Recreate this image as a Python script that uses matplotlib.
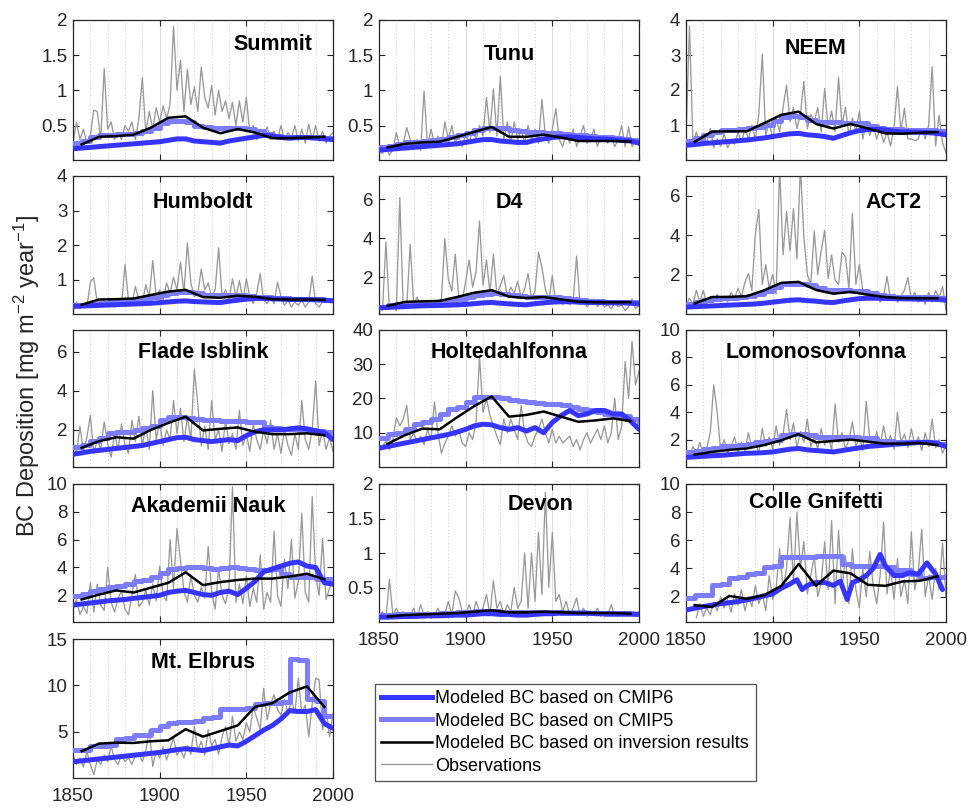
import numpy as np
import matplotlib
matplotlib.use('Agg')
import matplotlib.pyplot as plt
from matplotlib.ticker import FixedLocator, MultipleLocator, FuncFormatter
from matplotlib.lines import Line2D

plt.rcParams['font.family'] = ['Liberation Sans', 'DejaVu Sans']
plt.rcParams['mathtext.default'] = 'regular'

# ---------------- data ----------------
obs_years = list(range(1850, 2001, 2))
inv_years = list(range(1855, 1996, 10))
cmip_years = list(range(1850, 2001, 5))

summit_obs = [0.25, 0.55, 0.3, 0.45, 0.25, 0.35, 0.72, 0.7, 0.3, 1.31, 0.45, 0.55, 0.3, 0.4, 0.3, 0.5, 0.42, 0.55, 0.3, 0.6,
              1.18, 0.4, 0.7, 0.45, 0.75, 0.55, 0.78, 0.6, 0.8, 1.91, 1.0, 1.43, 0.7, 1.3, 0.8, 1.05, 0.7, 1.33, 0.9, 0.75,
              1.07, 0.65, 1.0, 0.7, 0.85, 0.6, 0.83, 0.5, 0.85, 0.55, 0.9, 0.4, 0.5, 0.3, 0.45, 0.35, 0.48, 0.3, 0.42, 0.3,
              0.5, 0.3, 0.4, 0.32, 0.5, 0.28, 0.45, 0.25, 0.52, 0.3, 0.5, 0.28, 0.42, 0.25, 0.35, 0.4]
summit_inv = [0.23, 0.34, 0.35, 0.37, 0.47, 0.61, 0.63, 0.47, 0.39, 0.45, 0.4, 0.32, 0.32, 0.33, 0.34]
summit_c5 = [0.25, 0.28, 0.34, 0.36, 0.37, 0.38, 0.38, 0.4, 0.42, 0.46, 0.53, 0.56, 0.57, 0.55, 0.5, 0.48, 0.47, 0.47, 0.47, 0.46,
             0.45, 0.42, 0.38, 0.35, 0.34, 0.33, 0.33, 0.33, 0.33, 0.32, 0.32]
summit_c6 = [0.17, 0.18, 0.19, 0.2, 0.21, 0.22, 0.23, 0.24, 0.25, 0.26, 0.27, 0.29, 0.31, 0.31, 0.28, 0.27, 0.26, 0.25, 0.28, 0.3,
             0.32, 0.34, 0.36, 0.35, 0.33, 0.32, 0.33, 0.33, 0.32, 0.31, 0.3]

tunu_obs = [0.15, 0.1, 0.2, 0.08, 0.15, 0.4, 0.2, 0.25, 0.47, 0.3, 0.2, 0.3, 0.15, 0.99, 0.2, 0.45, 0.25, 0.35, 0.2, 0.55,
            0.3, 0.5, 0.25, 0.35, 0.2, 0.38, 0.25, 0.45, 0.3, 0.5, 0.35, 0.9, 0.4, 1.02, 0.35, 1.2, 0.3, 0.55, 0.25, 0.55,
            0.3, 0.45, 0.25, 0.5, 0.3, 0.45, 0.25, 0.87, 0.35, 0.25, 0.45, 0.74, 0.3, 0.2, 0.4, 0.25, 0.45, 0.2, 0.35, 0.5,
            0.25, 0.3, 0.45, 0.2, 0.35, 0.3, 0.25, 0.35, 0.2, 0.3, 0.5, 0.2, 0.48, 0.2, 0.3, 0.22]
tunu_inv = [0.19, 0.24, 0.26, 0.27, 0.34, 0.41, 0.48, 0.34, 0.34, 0.37, 0.33, 0.28, 0.28, 0.28, 0.27]
tunu_c5 = [0.19, 0.21, 0.24, 0.26, 0.27, 0.28, 0.3, 0.31, 0.33, 0.36, 0.4, 0.44, 0.46, 0.47, 0.46, 0.43, 0.42, 0.41, 0.41, 0.4,
           0.4, 0.38, 0.37, 0.36, 0.35, 0.34, 0.33, 0.32, 0.31, 0.3, 0.28]
tunu_c6 = [0.15, 0.16, 0.17, 0.18, 0.19, 0.2, 0.21, 0.22, 0.23, 0.24, 0.26, 0.28, 0.3, 0.3, 0.28, 0.27, 0.26, 0.26, 0.29, 0.31,
           0.33, 0.34, 0.34, 0.33, 0.32, 0.31, 0.31, 0.3, 0.29, 0.28, 0.25]

neem_obs = [0.6, 3.83, 0.5, 0.8, 0.4, 0.7, 0.5, 0.9, 0.35, 0.6, 0.4, 0.75, 0.35, 0.55, 0.45, 0.8, 0.5, 0.9, 0.6, 1.0,
            0.6, 1.3, 3.02, 0.7, 1.1, 0.6, 1.2, 0.8, 1.5, 2.14, 1.1, 1.5, 0.9, 1.3, 2.24, 0.9, 1.3, 1.1, 1.5, 0.8,
            2.05, 0.9, 1.4, 0.8, 2.36, 1.0, 1.5, 0.7, 1.2, 0.8, 1.4, 0.6, 1.1, 0.7, 1.0, 0.6, 0.9, 0.5, 0.8, 0.4,
            0.9, 2.1, 0.8, 1.48, 0.6, 0.6, 0.55, 0.6, 0.9, 0.6, 1.0, 2.67, 0.4, 1.28, 0.5, 0.2]
neem_inv = [0.52, 0.81, 0.82, 0.82, 1.05, 1.29, 1.38, 1.03, 0.9, 1.03, 0.9, 0.76, 0.75, 0.78, 0.8]
neem_c5 = [0.55, 0.62, 0.72, 0.8, 0.85, 0.87, 0.9, 0.92, 0.95, 1.0, 1.12, 1.22, 1.25, 1.22, 1.15, 1.1, 1.08, 1.08, 1.07, 1.06,
           1.05, 0.98, 0.92, 0.9, 0.88, 0.87, 0.86, 0.85, 0.85, 0.84, 0.82]
neem_c6 = [0.42, 0.44, 0.47, 0.49, 0.51, 0.53, 0.55, 0.57, 0.6, 0.63, 0.67, 0.71, 0.75, 0.76, 0.72, 0.7, 0.67, 0.62, 0.7, 0.78,
           0.84, 0.87, 0.88, 0.86, 0.82, 0.8, 0.8, 0.79, 0.78, 0.76, 0.72]

humboldt_obs = [0.2, 0.35, 0.15, 0.3, 0.2, 0.92, 1.05, 0.3, 0.2, 0.4, 0.25, 0.3, 0.2, 0.35, 0.25, 1.44, 0.4, 0.3, 0.8, 0.4,
                0.3, 0.85, 0.5, 1.55, 0.5, 0.7, 0.4, 0.9, 0.6, 1.07, 0.7, 1.5, 0.6, 2.06, 0.9, 0.5, 0.6, 1.3, 0.7, 0.9,
                0.5, 0.7, 1.92, 0.5, 0.7, 0.4, 1.02, 0.5, 0.97, 0.4, 1.02, 0.5, 0.3, 0.6, 1.17, 0.4, 0.3, 0.5, 0.3, 0.92,
                0.5, 0.25, 0.4, 0.2, 0.35, 0.25, 0.4, 0.2, 0.35, 1.1, 0.3, 0.2, 0.35]
humboldt_inv = [0.27, 0.42, 0.43, 0.45, 0.55, 0.65, 0.7, 0.49, 0.47, 0.53, 0.5, 0.43, 0.42, 0.42, 0.41]
humboldt_c5 = [0.25, 0.27, 0.3, 0.33, 0.36, 0.38, 0.4, 0.42, 0.45, 0.5, 0.55, 0.6, 0.65, 0.63, 0.6, 0.56, 0.55, 0.55, 0.55, 0.54,
               0.53, 0.5, 0.48, 0.47, 0.45, 0.44, 0.43, 0.43, 0.43, 0.42, 0.42]
humboldt_c6 = [0.22, 0.23, 0.24, 0.25, 0.26, 0.27, 0.28, 0.29, 0.3, 0.31, 0.33, 0.35, 0.37, 0.38, 0.36, 0.35, 0.34, 0.33, 0.37, 0.4,
               0.43, 0.45, 0.45, 0.44, 0.43, 0.42, 0.42, 0.42, 0.41, 0.4, 0.38]

d4_obs = [0.5, 0.3, 3.82, 0.4, 0.6, 0.3, 6.1, 0.4, 0.5, 3.7, 0.6, 1.0, 0.5, 0.7, 0.6, 0.8, 0.5, 0.7, 0.9, 4.0,
          1.9, 1.3, 3.2, 1.0, 0.8, 1.8, 2.9, 1.5, 2.3, 4.9, 1.6, 2.9, 1.2, 3.2, 1.1, 1.6, 2.1, 1.0, 1.5, 1.2,
          1.8, 1.0, 1.4, 2.2, 0.9, 1.3, 3.3, 2.5, 1.4, 0.8, 2.1, 0.7, 1.0, 0.6, 0.9, 0.6, 0.8, 3.1, 0.6, 0.8,
          0.5, 0.7, 0.9, 0.5, 0.7, 0.5, 0.6, 0.4, 0.7, 0.5, 0.6, 0.3, 0.5, 0.9, 0.4, 0.6]
d4_inv = [0.55, 0.75, 0.78, 0.8, 1.0, 1.22, 1.35, 1.02, 0.95, 1.0, 0.88, 0.76, 0.73, 0.73, 0.74]
d4_c5 = [0.5, 0.57, 0.64, 0.68, 0.7, 0.72, 0.75, 0.8, 0.85, 0.92, 1.0, 1.12, 1.18, 1.2, 1.15, 1.08, 1.03, 1.02, 1.02, 1.01,
         1.0, 0.95, 0.9, 0.85, 0.8, 0.78, 0.76, 0.75, 0.75, 0.75, 0.72]
d4_c6 = [0.45, 0.47, 0.49, 0.51, 0.53, 0.55, 0.56, 0.57, 0.58, 0.6, 0.62, 0.66, 0.7, 0.72, 0.68, 0.65, 0.62, 0.6, 0.66, 0.7,
         0.74, 0.76, 0.76, 0.74, 0.72, 0.72, 0.71, 0.7, 0.7, 0.68, 0.65]

act2_obs = [0.4, 0.8, 0.5, 1.2, 0.6, 1.2, 0.5, 0.9, 0.6, 1.0, 0.7, 0.9, 0.6, 1.1, 0.8, 1.3, 0.9, 1.6, 2.05, 1.2,
            4.05, 5.3, 1.5, 2.5, 1.3, 2.0, 1.0, 7.5, 3.0, 5.2, 3.2, 5.35, 2.8, 7.5, 3.9, 2.0, 1.5, 4.2, 2.0, 3.2,
            4.25, 1.8, 3.0, 1.7, 1.5, 3.15, 2.9, 1.3, 5.1, 1.5, 2.5, 1.2, 0.8, 1.1, 0.7, 1.0, 0.6, 0.9, 1.9, 0.7,
            1.0, 0.6, 0.9, 1.2, 1.85, 0.7, 1.1, 0.6, 0.9, 0.5, 1.1, 0.6, 1.2, 0.8, 1.4, 0.2]
act2_inv = [0.53, 0.86, 0.87, 0.9, 1.2, 1.58, 1.63, 1.22, 1.03, 1.12, 0.98, 0.86, 0.8, 0.8, 0.8]
act2_c5 = [0.5, 0.6, 0.7, 0.76, 0.8, 0.83, 0.85, 0.9, 1.0, 1.15, 1.35, 1.5, 1.52, 1.5, 1.45, 1.3, 1.22, 1.2, 1.2, 1.18,
           1.15, 1.05, 0.95, 0.9, 0.85, 0.85, 0.85, 0.85, 0.84, 0.83, 0.8]
act2_c6 = [0.35, 0.37, 0.39, 0.41, 0.43, 0.45, 0.47, 0.49, 0.51, 0.55, 0.6, 0.65, 0.7, 0.72, 0.68, 0.65, 0.6, 0.58, 0.66, 0.72,
           0.78, 0.8, 0.8, 0.79, 0.78, 0.77, 0.76, 0.75, 0.75, 0.74, 0.7]

flade_obs = [1.2, 0.8, 2.17, 0.9, 1.6, 2.75, 0.8, 1.5, 1.0, 2.4, 1.3, 0.6, 1.8, 1.0, 2.3, 1.2, 0.8, 2.5, 1.4, 2.7,
             1.2, 2.2, 1.0, 4.0, 1.5, 2.4, 1.2, 2.0, 1.5, 3.5, 1.8, 3.1, 1.4, 2.6, 1.5, 5.08, 3.3, 1.2, 2.2, 1.0,
             3.5, 1.5, 2.0, 0.9, 2.5, 1.3, 1.8, 1.0, 3.0, 1.2, 1.8, 0.9, 2.3, 1.5, 1.0, 2.0, 1.3, 2.5, 1.0, 1.8,
             0.8, 2.0, 1.2, 0.7, 1.8, 1.0, 3.5, 1.5, 1.0, 2.0, 4.5, 1.2, 2.0, 1.0, 1.6, 0.9]
flade_inv = [1.08, 1.42, 1.62, 1.55, 2.0, 2.35, 2.67, 1.97, 2.05, 2.12, 1.9, 1.78, 1.78, 1.82, 1.72]
flade_c5 = [1.1, 1.2, 1.45, 1.6, 1.85, 1.88, 1.9, 2.0, 2.1, 2.2, 2.5, 2.65, 2.65, 2.6, 2.55, 2.5, 2.48, 2.47, 2.45, 2.45,
            2.42, 2.4, 2.15, 2.1, 2.05, 2.05, 2.0, 2.0, 1.95, 1.9, 1.75]
flade_c6 = [0.75, 0.82, 0.9, 0.95, 1.0, 1.05, 1.1, 1.15, 1.2, 1.3, 1.4, 1.5, 1.6, 1.62, 1.5, 1.45, 1.4, 1.45, 1.5, 1.45,
            1.7, 1.9, 2.0, 2.0, 2.0, 2.05, 2.1, 2.05, 1.95, 1.85, 1.5]

holte_years = list(range(1852, 2001, 2))
holte_obs = [6, 7.5, 5, 8, 14.4, 12, 14, 18, 8, 10, 7, 9, 6.5, 11, 8, 19, 10, 4, 7, 9,
             12, 9, 11, 7, 6, 10, 8, 13, 32.3, 16, 20, 15, 12, 9, 6.5, 14, 10, 14, 11, 8,
             18, 10, 7, 6, 9, 11, 14, 10, 7, 11, 7, 9, 7, 8, 9, 6, 8, 5, 8, 10,
             7, 9, 11, 8, 12, 7, 10, 20, 8, 12, 30.8, 20, 36.7, 24, 28]
holte_inv = [6.8, 9.3, 11.2, 11.0, 14.5, 17.8, 20.6, 14.7, 15.2, 16.2, 14.7, 13.2, 13.6, 14.2, 13.4]
holte_c5 = [8.5, 9.5, 10, 11, 12.5, 13, 14, 15.5, 17, 17.5, 19, 20.3, 20.5, 20.5, 20, 19.5, 19.2, 19, 18.7, 18.5,
            18.3, 18, 17.5, 17, 16.5, 16, 15.5, 15, 15, 14, 12]
holte_c6 = [5.5, 6, 6.5, 7, 7.5, 8, 8.5, 9, 9.5, 10.2, 11, 12, 12.5, 12.3, 11.5, 11, 11.5, 10.5, 11.5, 10,
            13, 15, 16.5, 15, 15.5, 16.5, 16.5, 15.5, 15.5, 13.5, 11]

lomo_obs = [1.2, 0.8, 1.5, 1.0, 1.8, 0.9, 1.4, 2.5, 6.0, 4.0, 1.2, 2.0, 1.0, 1.5, 2.2, 1.1, 1.8, 1.2, 2.5, 1.4,
            1.9, 1.0, 2.8, 1.5, 2.2, 1.3, 3.0, 1.6, 2.4, 4.2, 2.0, 3.2, 1.4, 2.6, 1.8, 3.5, 1.5, 2.2, 1.3, 2.8,
            1.6, 2.3, 1.2, 4.6, 1.8, 2.5, 1.3, 2.0, 3.3, 1.5, 2.2, 1.2, 4.8, 2.0, 1.4, 2.6, 1.5, 3.0, 1.7, 2.3,
            1.3, 4.0, 1.8, 2.4, 1.4, 2.8, 1.6, 2.2, 1.2, 2.5, 1.5, 3.5, 1.4, 2.0, 1.0, 1.6]
lomo_inv = [0.9, 1.1, 1.25, 1.35, 1.6, 1.95, 2.4, 1.8, 1.9, 2.0, 1.85, 1.7, 1.7, 1.75, 1.6]
lomo_c5 = [1.1, 1.2, 1.3, 1.4, 1.5, 1.55, 1.6, 1.7, 1.8, 1.9, 2.0, 2.3, 2.4, 2.4, 2.3, 2.2, 2.2, 2.2, 2.2, 2.2,
           2.15, 2.1, 1.9, 1.9, 1.85, 1.85, 1.8, 1.8, 1.8, 1.7, 1.6]
lomo_c6 = [0.7, 0.74, 0.78, 0.82, 0.85, 0.9, 0.95, 1.0, 1.02, 1.05, 1.1, 1.2, 1.3, 1.35, 1.25, 1.2, 1.15, 1.1, 1.2, 1.3,
           1.4, 1.5, 1.55, 1.6, 1.65, 1.7, 1.75, 1.8, 1.8, 1.7, 1.5]

akad_obs = [1.0, 1.7, 0.6, 1.2, 0.7, 2.9, 0.8, 2.8, 1.3, 0.9, 4.0, 1.5, 0.8, 1.8, 2.3, 1.0, 0.6, 2.0, 3.5, 1.2,
            1.5, 2.4, 1.3, 2.8, 1.6, 4.1, 2.0, 1.6, 6.0, 2.5, 6.8, 4.5, 2.3, 1.5, 3.4, 2.0, 1.5, 2.6, 1.8, 5.5,
            2.2, 1.0, 3.9, 2.0, 1.4, 2.6, 9.8, 1.5, 2.8, 1.4, 3.4, 1.2, 2.5, 1.5, 4.9, 1.0, 2.2, 1.5, 6.6, 2.0,
            1.2, 4.6, 2.5, 6.0, 1.8, 3.0, 7.9, 2.2, 1.5, 9.1, 3.4, 2.0, 6.1, 1.7, 2.5, 3.0]
akad_inv = [1.7, 2.05, 2.35, 2.2, 2.55, 2.9, 3.65, 2.73, 2.95, 3.1, 3.2, 3.2, 3.35, 3.55, 3.15]
akad_c5 = [1.95, 2.1, 2.3, 2.45, 2.6, 2.7, 2.8, 3.0, 3.1, 3.3, 3.6, 3.9, 3.95, 4.0, 4.0, 3.95, 3.9, 3.95, 4.0, 3.95,
           3.9, 3.85, 3.85, 3.9, 3.5, 3.3, 3.3, 3.3, 3.2, 3.2, 3.0]
akad_c6 = [1.3, 1.37, 1.45, 1.52, 1.6, 1.65, 1.7, 1.78, 1.85, 1.92, 2.0, 2.2, 2.3, 2.35, 2.2, 2.05, 2.0, 2.2, 2.3, 2.05,
           2.5, 3.0, 3.7, 3.9, 4.1, 4.3, 4.4, 4.1, 4.0, 2.9, 2.8]

devon_obs = [0.1, 0.15, 0.05, 0.62, 0.1, 0.2, 0.08, 0.15, 0.05, 0.1, 0.2, 0.05, 0.25, 0.1, 0.15, 0.05, 0.1, 0.2, 0.08, 0.12,
             0.3, 0.1, 0.45, 0.35, 0.15, 0.1, 0.25, 0.1, 0.3, 0.15, 0.2, 0.4, 0.1, 0.6, 0.2, 0.3, 0.1, 0.25, 0.15, 0.5,
             0.2, 0.3, 1.0, 0.2, 1.0, 0.3, 1.3, 0.4, 1.88, 0.5, 1.3, 0.3, 0.4, 0.15, 0.3, 0.1, 0.2, 0.35, 0.1, 0.2,
             0.08, 0.15, 0.1, 0.2, 0.08, 0.15, 0.1, 0.25, 0.08, 0.12, 0.1, 0.15, 0.08, 0.12, 0.1, 0.15]
devon_inv = [0.08, 0.1, 0.11, 0.12, 0.13, 0.15, 0.17, 0.14, 0.14, 0.15, 0.14, 0.13, 0.13, 0.13, 0.12]
devon_c5 = [0.1, 0.1, 0.11, 0.11, 0.12, 0.12, 0.12, 0.13, 0.13, 0.14, 0.15, 0.16, 0.16, 0.16, 0.15, 0.15, 0.14, 0.14, 0.14, 0.14,
            0.14, 0.13, 0.13, 0.13, 0.13, 0.13, 0.12, 0.12, 0.12, 0.12, 0.12]
devon_c6 = [0.07, 0.07, 0.075, 0.08, 0.08, 0.085, 0.09, 0.09, 0.095, 0.1, 0.1, 0.11, 0.12, 0.12, 0.11, 0.11, 0.1, 0.1, 0.11, 0.12,
            0.12, 0.13, 0.13, 0.13, 0.13, 0.12, 0.12, 0.12, 0.12, 0.12, 0.11]

colle_years = list(range(1856, 2001, 2))
colle_obs = [0.5, 1.5, 0.6, 1.2, 0.7, 1.6, 1.0, 2.0, 1.2, 1.8, 0.9, 2.2, 1.4, 2.5, 1.0, 2.0, 1.3, 2.8, 1.5, 2.2,
             1.0, 3.5, 1.8, 2.6, 5.4, 2.5, 4.0, 7.6, 3.0, 8.0, 4.0, 5.9, 2.2, 3.5, 4.9, 2.0, 3.0, 5.9, 2.5, 7.4,
             1.5, 6.7, 2.5, 4.9, 1.5, 5.4, 2.5, 1.2, 4.0, 2.0, 5.2, 2.8, 1.5, 3.5, 7.3, 2.2, 4.0, 1.8, 4.7, 2.0,
             3.2, 1.5, 6.6, 2.5, 3.8, 6.8, 2.0, 3.5, 1.8, 4.0, 2.5, 5.8, 2.0]
colle_inv = [1.4, 1.26, 2.05, 1.85, 2.1, 2.77, 4.32, 2.77, 3.85, 3.65, 2.84, 2.77, 3.08, 3.13, 3.44]
colle_c5 = [1.9, 2.1, 2.1, 2.8, 2.9, 3.3, 3.4, 3.6, 3.7, 4.1, 4.2, 4.8, 4.8, 4.8, 4.8, 4.9, 4.9, 4.9, 4.3, 4.2,
            4.2, 4.2, 4.2, 4.1, 3.9, 3.9, 3.6, 3.3, 3.4, 3.4, 3.5]
colle_c6_years = [1850, 1860, 1870, 1880, 1890, 1900, 1905, 1910, 1914, 1917, 1920, 1925, 1930, 1935, 1939,
                  1943, 1946, 1950, 1954, 1958, 1962, 1965, 1970, 1975, 1979, 1984, 1989, 1994, 1998]
colle_c6 = [1.05, 1.3, 1.5, 1.65, 1.9, 2.2, 2.6, 2.9, 3.2, 2.5, 2.8, 3.0, 3.0, 2.8, 3.1,
            1.8, 3.0, 3.2, 3.5, 4.0, 5.0, 4.2, 3.5, 3.5, 3.7, 3.6, 4.4, 3.6, 2.5]

elbrus_obs = [2.5, 1.5, 2.2, 1.2, 2.9, 1.5, 0.4, 2.0, 1.5, 2.5, 1.8, 3.5, 2.0, 1.5, 2.6, 1.8, 2.2, 1.5, 2.5, 2.75,
              1.8, 3.0, 5.25, 1.3, 3.0, 2.2, 3.4, 2.0, 3.2, 4.35, 2.5, 3.1, 2.2, 3.5, 2.6, 5.6, 3.0, 4.0, 2.5, 5.25,
              3.5, 4.2, 2.6, 4.5, 5.6, 3.5, 6.7, 4.0, 5.0, 4.2, 6.0, 5.0, 7.75, 6.5, 5.25, 9.7, 6.3, 8.0, 9.0, 7.4,
              6.8, 8.5, 7.0, 8.5, 7.0, 10.8, 7.0, 7.9, 4.5, 8.0, 10.8, 10.6, 5.25, 7.4, 4.5, 7.0]
elbrus_inv = [2.93, 3.75, 3.85, 3.82, 4.0, 4.1, 5.3, 4.5, 5.1, 5.7, 7.7, 8.1, 9.25, 9.9, 7.7]
elbrus_c5 = [3.1, 3.1, 3.5, 3.5, 3.6, 4.2, 4.3, 4.7, 4.7, 5.2, 5.6, 6.0, 6.1, 6.1, 6.2, 6.5, 6.6, 7.5, 7.5, 7.5,
             7.6, 8.0, 8.1, 8.1, 8.2, 12.8, 12.7, 8.5, 8.3, 6.7, 6.7]
elbrus_c6 = [1.8, 1.9, 2.0, 2.1, 2.2, 2.3, 2.4, 2.5, 2.6, 2.7, 2.8, 2.95, 3.1, 3.2, 3.1, 3.0, 3.2, 3.4, 3.6, 3.5,
             4.0, 4.6, 5.2, 5.7, 6.4, 7.3, 7.2, 7.2, 7.4, 5.9, 5.4]

legend_labels = ['Modeled BC based on CMIP6', 'Modeled BC based on CMIP5',
                 'Modeled BC based on inversion results', 'Observations']
ylabel_text = 'BC Deposition [mg m$^{-2}$ year$^{-1}$]'

# ---------------- layout / style ----------------
W, H = 967, 810
col_x = [73, 379, 686]
ax_w = 260
row_y = [(20, 160), (176, 314), (330, 467), (484, 622), (639, 778)]

C6 = '#3535FF'
C5 = '#7C7CFF'
OBS = '#999999'

panels = [
    # name, obs_x, obs, inv, c5, c6_x, c6, ylim, yticks, row, col, title_x, title_dy
    ('Summit', obs_years, summit_obs, summit_inv, summit_c5, cmip_years, summit_c6, (0.01, 2), [0.5, 1, 1.5, 2], 0, 0, 0.77, 25),
    ('Tunu', obs_years, tunu_obs, tunu_inv, tunu_c5, cmip_years, tunu_c6, (0.01, 2), [0.5, 1, 1.5, 2], 0, 1, 0.5, 34),
    ('NEEM', obs_years, neem_obs, neem_inv, neem_c5, cmip_years, neem_c6, (0, 4), [1, 2, 3, 4], 0, 2, 0.5, 29),
    ('Humboldt', obs_years[:73], humboldt_obs, humboldt_inv, humboldt_c5, cmip_years, humboldt_c6, (0, 4), [1, 2, 3, 4], 1, 0, 0.5, 26),
    ('D4', obs_years, d4_obs, d4_inv, d4_c5, cmip_years, d4_c6, (0.13, 7.2), [2, 4, 6], 1, 1, 0.5, 27),
    ('ACT2', obs_years, act2_obs, act2_inv, act2_c5, cmip_years, act2_c6, (0, 7), [2, 4, 6], 1, 2, 0.8, 27),
    ('Flade Isblink', obs_years, flade_obs, flade_inv, flade_c5, cmip_years, flade_c6, (0.1, 7.1), [2, 4, 6], 2, 0, 0.5, 23),
    ('Holtedahlfonna', holte_years, holte_obs, holte_inv, holte_c5, cmip_years, holte_c6, (0, 40), [10, 20, 30, 40], 2, 1, 0.5, 23),
    ('Lomonosovfonna', obs_years, lomo_obs, lomo_inv, lomo_c5, cmip_years, lomo_c6, (0, 10), [2, 4, 6, 8, 10], 2, 2, 0.5, 23),
    ('Akademii Nauk', obs_years, akad_obs, akad_inv, akad_c5, cmip_years, akad_c6, (0.08, 10), [2, 4, 6, 8, 10], 3, 0, 0.52, 23),
    ('Devon', obs_years, devon_obs, devon_inv, devon_c5, cmip_years, devon_c6, (0, 2), [0.5, 1, 1.5, 2], 3, 1, 0.62, 21),
    ('Colle Gnifetti', colle_years, colle_obs, colle_inv, colle_c5, colle_c6_years, colle_c6, (0.2, 10), [2, 4, 6, 8, 10], 3, 2, 0.5, 18),
    ('Mt. Elbrus', obs_years, elbrus_obs, elbrus_inv, elbrus_c5, cmip_years, elbrus_c6, (0.05, 15), [5, 10, 15], 4, 0, 0.5, 24),
]
xlabel_panels = {'Devon', 'Colle Gnifetti', 'Mt. Elbrus'}

fig = plt.figure(figsize=(W / 100, H / 100), dpi=100)
fmt = FuncFormatter(lambda v, _: '%g' % v)

for (name, ox, oy, inv, c5, c6x, c6, ylim, yt, r, c, tx, tdy) in panels:
    top, bot = row_y[r]
    ax = fig.add_axes([col_x[c] / W, 1 - bot / H, ax_w / W, (bot - top) / H])
    ax.plot(ox, oy, color=OBS, lw=0.95, zorder=2)
    ax.plot(cmip_years, c5, color=C5, lw=3.6, drawstyle='steps-post', zorder=3,
            solid_joinstyle='round', solid_capstyle='round')
    ax.plot(c6x, c6, color=C6, lw=3.6, zorder=4, solid_joinstyle='round', solid_capstyle='round')
    ax.plot(inv_years, inv, color='black', lw=1.8, zorder=5)
    ax.set_xlim(1850, 2000)
    ax.set_ylim(*ylim)
    ax.xaxis.set_major_locator(FixedLocator([1850, 1900, 1950, 2000]))
    ax.xaxis.set_minor_locator(MultipleLocator(10))
    ax.yaxis.set_major_locator(FixedLocator(yt))
    ax.yaxis.set_major_formatter(fmt)
    ax.grid(axis='x', which='major', color='#dedede', lw=0.8, zorder=0)
    ax.grid(axis='x', which='minor', color='#c8c8c8', lw=0.7, linestyle=(0, (1, 2.5)), zorder=0)
    ax.set_axisbelow(True)
    ax.tick_params(which='major', direction='in', top=True, right=True, length=4, width=0.8,
                   labelsize=13.5, colors='#262626', pad=4)
    ax.tick_params(axis='x', which='major', pad=7)
    ax.tick_params(which='minor', length=0)
    for sp in ax.spines.values():
        sp.set_linewidth(0.9)
        sp.set_color('#262626')
    if name not in xlabel_panels:
        ax.set_xticklabels([])
    ax.text(tx, 1 - tdy / (bot - top), name, transform=ax.transAxes, ha='center', va='center',
            fontsize=15.5, fontweight='bold', zorder=6)

fig.text(27 / W, 1 - 376 / H, ylabel_text, rotation=90, ha='center', va='center', fontsize=17, color='#262626')

handles = [Line2D([], [], color=C6, lw=3.6),
           Line2D([], [], color=C5, lw=3.6),
           Line2D([], [], color='black', lw=1.8),
           Line2D([], [], color=OBS, lw=0.95)]
leg = fig.legend(handles, legend_labels, loc='upper left', bbox_to_anchor=(375 / W, 1 - 684 / H),
                 fontsize=13, frameon=True, fancybox=False, edgecolor='#262626', handlelength=2.8,
                 handletextpad=0.2, borderpad=0.35, labelspacing=0.3, borderaxespad=0)
leg.get_frame().set_linewidth(0.9)

fig.savefig('out.png', dpi=100)
